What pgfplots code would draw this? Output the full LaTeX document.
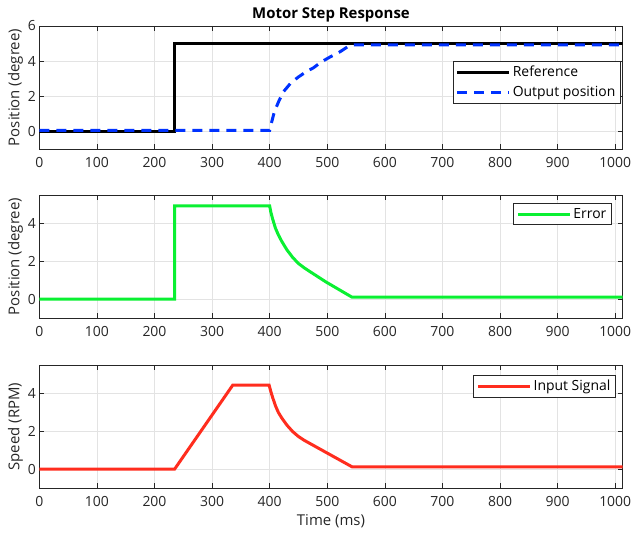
\documentclass[border=0pt]{standalone}
\usepackage{fontspec}
\setmainfont{Open Sans}
\usepackage{pgfplots}
\pgfplotsset{compat=1.18}

\definecolor{mblue}{RGB}{0,50,255}
\definecolor{mgreen}{RGB}{10,240,50}
\definecolor{mred}{RGB}{255,45,30}
\definecolor{axgray}{gray}{0.15}

\pgfplotsset{
  mstyle/.style={
    scale only axis,
    width=583.4bp, height=123bp,
    xmin=0, xmax=1013,
    xtick={0,100,...,1000},
    grid=major,
    major grid style={gray!22, line width=0.5bp},
    axis line style={axgray, line width=0.6bp},
    tick style={axgray, line width=0.6bp},
    tick align=inside,
    major tick length=5bp,
    ticklabel style={font=\fontsize{14}{16}\selectfont, text=axgray},
    xticklabel style={yshift=-5bp},
    label style={font=\fontsize{15}{17}\selectfont, text=axgray},
    ylabel style={yshift=-2bp},
    xlabel style={yshift=-1bp},
    /pgf/number format/assume math mode=true,
    /pgf/number format/1000 sep={},
    legend cell align=left,
    legend style={draw=axgray, line width=0.6bp, fill=white,
      font=\fontsize{14}{16}\selectfont, inner xsep=3bp, inner ysep=3bp,
      row sep=4bp, anchor=north east},
    legend image code/.code={\draw[#1] (0bp,0bp) -- (52bp,0bp);},
  },
}

\begin{document}
\begin{tikzpicture}
\useasboundingbox (-39.3bp,26bp) rectangle (591.7bp,-514bp);

% top: reference and output position
\begin{axis}[mstyle, at={(0,0)}, anchor=north west,
  ymin=-1, ymax=6, ytick={0,2,4,6},
  ylabel={Position (degree)},
  title={Motor Step Response},
  title style={font=\fontsize{15}{17}\selectfont\bfseries, yshift=-6bp},
  legend style={at={(1,1)}, xshift=-2bp, yshift=-35bp}]
\addplot[black, line width=3bp] coordinates {
  (0,0) (235,0) (235,5) (1013,5)};
\addplot[mblue, line width=3bp, dash pattern=on 10bp off 7bp] coordinates {
  (0,0.06) (400,0.06) (404,0.6) (408,1.1) (416,1.73) (424,2.26) (437,2.77)
  (450,3.1) (463,3.39) (476,3.62) (490,3.96) (505,4.24) (522,4.53)
  (535,4.81) (545,4.92) (1013,4.92)};
\legend{Reference, Output position}
\end{axis}

% middle: error
\begin{axis}[mstyle, at={(0,-169bp)}, anchor=north west,
  ymin=-1, ymax=5.5, ytick={0,2,4},
  ylabel={Position (degree)},
  legend style={at={(1,1)}, xshift=-11bp, yshift=-8bp}]
\addplot[mgreen, line width=3bp] coordinates {
  (0,0) (235,0) (235,4.92) (400,4.92) (402,4.6) (405,4.25) (410,3.75)
  (415,3.4) (421,3.05) (430,2.6) (440,2.2) (450,1.88) (460,1.65)
  (470,1.45) (498,0.9) (543,0.1) (1013,0.1)};
\legend{Error}
\end{axis}

% bottom: input signal
\begin{axis}[mstyle, at={(0,-339bp)}, anchor=north west,
  ymin=-1, ymax=5.5, ytick={0,2,4},
  ylabel={Speed (RPM)}, xlabel={Time (ms)},
  legend style={at={(1,1)}, xshift=-7bp, yshift=-10bp}]
\addplot[mred, line width=3bp] coordinates {
  (0,0) (235,0) (336,4.44) (399,4.44) (402,4.1) (405,3.8) (410,3.35)
  (415,3.0) (421,2.7) (430,2.32) (440,1.98) (450,1.72) (460,1.52)
  (492,0.98) (543,0.12) (1013,0.12)};
\legend{Input Signal}
\end{axis}
\end{tikzpicture}
\end{document}
